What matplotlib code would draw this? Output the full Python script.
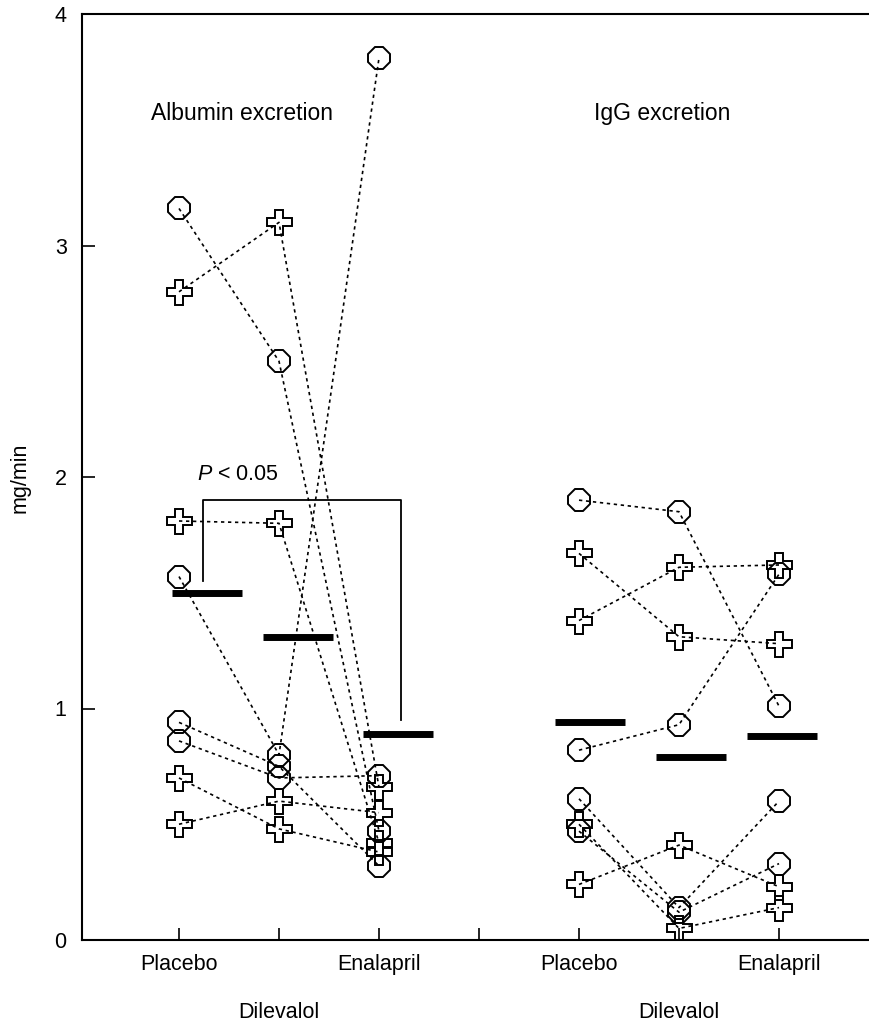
import matplotlib
matplotlib.use("Agg")
import matplotlib.pyplot as plt
import matplotlib.transforms as mtransforms

plt.rcParams['font.family'] = ['Liberation Sans', 'DejaVu Sans']
plt.rcParams['mathtext.fontset'] = 'custom'
plt.rcParams['mathtext.it'] = 'Liberation Sans:italic'
plt.rcParams['mathtext.rm'] = 'Liberation Sans'

# ---------------- data ----------------
tick_positions = [1, 2, 3, 4, 5, 6, 7]
tick_labels = ["Placebo", "", "Enalapril", "", "Placebo", "", "Enalapril"]
second_row_labels = ["Dilevalol", "Dilevalol"]
second_row_positions = [2, 6]
panel_titles = ["Albumin excretion", "IgG excretion"]

# Albumin excretion (mg/min), per subject: placebo -> dilevalol -> enalapril
alb_circ_pla = [3.16, 1.57, 0.94, 0.86]
alb_circ_dil = [2.50, 0.80, 0.75, 0.70]
alb_circ_ena = [0.47, 3.81, 0.32, 0.71]
alb_cross_pla = [2.80, 1.81, 0.70, 0.50]
alb_cross_dil = [3.10, 1.80, 0.48, 0.60]
alb_cross_ena = [0.66, 0.42, 0.38, 0.55]
alb_means = [1.50, 1.31, 0.89]

# IgG excretion (mg/min)
igg_circ_pla = [1.90, 0.82, 0.61, 0.47]
igg_circ_dil = [1.85, 0.93, 0.14, 0.12]
igg_circ_ena = [1.01, 1.58, 0.60, 0.33]
igg_cross_pla = [1.67, 1.38, 0.24, 0.50]
igg_cross_dil = [1.31, 1.61, 0.41, 0.05]
igg_cross_ena = [1.28, 1.62, 0.23, 0.14]
igg_means = [0.94, 0.79, 0.88]

# ---------------- figure ----------------
fig = plt.figure(figsize=(8.7, 10.25), dpi=100)
ax = fig.add_axes([82/870, 1 - 940/1025, 1 - 82/870, (940 - 14)/1025])
ax.set_xlim(0.03, 7.91)
ax.set_ylim(0, 4)

line_kw = dict(color='black', lw=1.2, linestyle=(0, (2.0, 2.2)), zorder=2)
circ_kw = dict(marker='8', ms=16.5, mfc='none', mec='black', mew=1.4, ls='none', zorder=3)
cross_kw = dict(marker='P', ms=18, mfc='none', mec='black', mew=1.4, ls='none', zorder=3)


def draw_panel(xs, circ, cross, means, mean_offsets):
    for vals in zip(*circ):
        ax.plot(xs, vals, **line_kw)
    for vals in zip(*cross):
        ax.plot(xs, vals, **line_kw)
    for x, vals in zip(xs, circ):
        ax.plot([x] * len(vals), vals, **circ_kw)
    for x, vals in zip(xs, cross):
        ax.plot([x] * len(vals), vals, **cross_kw)
    for x, m, off in zip(xs, means, mean_offsets):
        ax.plot([x + off - 0.35, x + off + 0.35], [m, m], color='black',
                lw=5, solid_capstyle='butt', zorder=4)


draw_panel([1, 2, 3],
           [alb_circ_pla, alb_circ_dil, alb_circ_ena],
           [alb_cross_pla, alb_cross_dil, alb_cross_ena],
           alb_means, [0.28, 0.19, 0.19])
draw_panel([5, 6, 7],
           [igg_circ_pla, igg_circ_dil, igg_circ_ena],
           [igg_cross_pla, igg_cross_dil, igg_cross_ena],
           igg_means, [0.11, 0.12, 0.03])

# significance bracket
ax.plot([1.24, 1.24, 3.22, 3.22], [1.55, 1.90, 1.90, 0.95],
        color='black', lw=1.3, zorder=2)
ax.text(1.18, 2.01, r"$P$ < 0.05", fontsize=15.5, ha='left', va='center')

# panel titles
ax.text(1.63, 3.57, panel_titles[0], fontsize=16.5, ha='center', va='center')
ax.text(5.83, 3.57, panel_titles[1], fontsize=16.5, ha='center', va='center')

# axes styling
ax.spines['right'].set_visible(False)
for side in ['left', 'bottom', 'top']:
    ax.spines[side].set_linewidth(1.5)

ax.set_yticks([0, 1, 2, 3, 4])
ax.set_yticklabels(["0", "1", "2", "3", "4"])
ax.set_xticks(tick_positions)
ax.set_xticklabels(tick_labels)
ax.tick_params(axis='both', direction='in', length=9, width=1.2, labelsize=15.5)
ax.tick_params(axis='y', pad=11)
ax.tick_params(axis='x', pad=10)

trans = mtransforms.blended_transform_factory(ax.transData, fig.transFigure)
for x, lab in zip(second_row_positions, second_row_labels):
    ax.text(x, 1 - 1012/1025, lab, fontsize=15.5, ha='center', va='center', transform=trans)

fig.text(20/870, 1 - 478/1025, "mg/min", rotation=90, fontsize=15.5, ha='center', va='center')

fig.savefig("out.png", dpi=100)
